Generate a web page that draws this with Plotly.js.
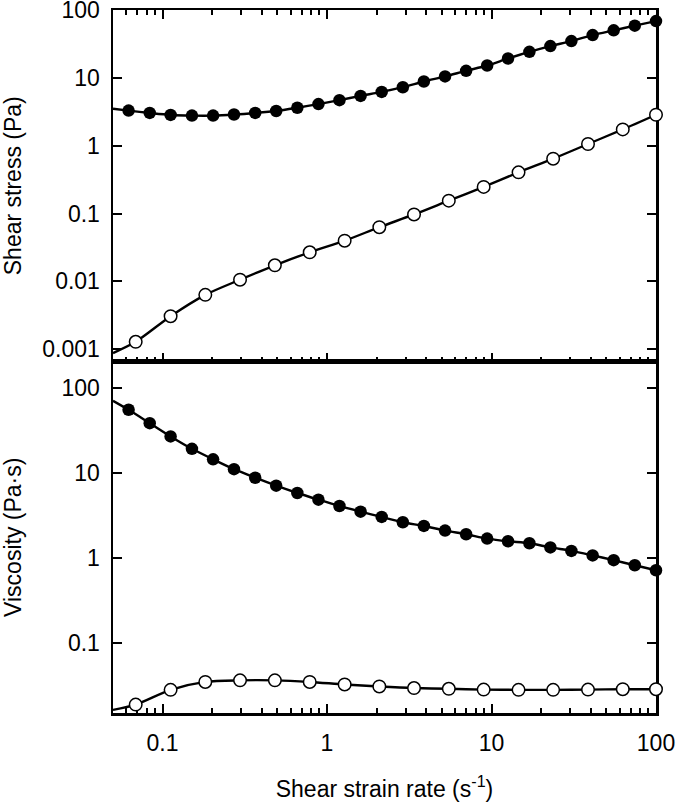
<!DOCTYPE html>
<html>
<head>
<meta charset="utf-8">
<script src="https://cdn.plot.ly/plotly-3.0.1.min.js"></script>
<style>html,body{margin:0;padding:0;background:#fff;}#chart{width:677px;height:805px;}</style>
</head>
<body>
<div id="chart"></div>
<script>
// Shear strain rate (s^-1) for the filled-circle series
const xFilled = [0.0622, 0.0836, 0.112, 0.151, 0.203, 0.272, 0.366, 0.491, 0.660, 0.887,
                 1.19, 1.60, 2.15, 2.89, 3.88, 5.22, 7.01, 9.41, 12.6, 17.0,
                 22.8, 30.6, 41.2, 55.3, 74.3, 100];
const stressFilled = [3.29, 3.04, 2.84, 2.78, 2.78, 2.88, 3.04, 3.25, 3.63, 4.11,
                      4.69, 5.42, 6.2, 7.28, 8.83, 10.5, 12.7, 15.2, 19.3, 24.2,
                      29.4, 34.8, 42.7, 50.1, 58.7, 68.7];
const viscFilled = [55.6, 38.7, 27.0, 19.3, 14.5, 11.1, 8.81, 7.10, 5.82, 4.86,
                    4.09, 3.51, 3.04, 2.63, 2.38, 2.10, 1.90, 1.69, 1.57, 1.49,
                    1.33, 1.21, 1.07, 0.94, 0.82, 0.716];
// Shear strain rate for the open-circle series
const xOpen = [0.0687, 0.112, 0.182, 0.296, 0.482, 0.785, 1.28, 2.08, 3.38, 5.5,
               8.96, 14.6, 23.7, 38.6, 62.8, 100];
const stressOpen = [0.00129, 0.00307, 0.00634, 0.0106, 0.0173, 0.0269, 0.0398, 0.063, 0.097, 0.155,
                    0.247, 0.405, 0.644, 1.06, 1.74, 2.86];
const viscOpen = [0.0187, 0.0279, 0.0346, 0.0361, 0.0361, 0.0346, 0.0323, 0.0306, 0.0293, 0.0287,
                  0.0281, 0.0279, 0.0279, 0.0281, 0.0284, 0.0284];
// fitted curves continue to the left frame edge
const xEdge = 0.05;
const stressFilledEdge = 3.5;
const stressOpenEdge = 0.00088;
const viscFilledEdge = 71;
const viscOpenEdge = 0.0162;

// tick labels
const xTickVals = [0.1, 1, 10, 100];
const xTickText = ['0.1', '1', '10', '100'];
const stressTickVals = [0.001, 0.01, 0.1, 1, 10, 100];
const stressTickText = ['0.001', '0.01', '0.1', '1', '10', '100'];
const viscTickVals = [0.1, 1, 10, 100];
const viscTickText = ['0.1', '1', '10', '100'];

const minorX = [];
for (let d = -2; d <= 1; d++) {
  for (let m = 2; m <= 9; m++) minorX.push(m * Math.pow(10, d));
}

const FONT = 'Liberation Sans, Arial, Helvetica, sans-serif';
const FS = 23;

function lineTrace(x, y, xa, ya) {
  return {x: x, y: y, xaxis: xa, yaxis: ya, type: 'scatter', mode: 'lines',
          line: {color: '#000', width: 2.4, shape: 'spline', smoothing: 0.8},
          hoverinfo: 'skip', cliponaxis: true};
}
function markerTrace(x, y, xa, ya, filled) {
  return {x: x, y: y, xaxis: xa, yaxis: ya, type: 'scatter', mode: 'markers',
          marker: {symbol: 'circle', size: 12.5,
                   color: filled ? '#000' : '#fff',
                   line: {color: '#000', width: filled ? 0 : 1.5}},
          cliponaxis: false};
}

const data = [
  lineTrace([xEdge].concat(xFilled), [stressFilledEdge].concat(stressFilled), 'x2', 'y2'),
  lineTrace([xEdge].concat(xOpen), [stressOpenEdge].concat(stressOpen), 'x2', 'y2'),
  markerTrace(xFilled, stressFilled, 'x2', 'y2', true),
  markerTrace(xOpen, stressOpen, 'x2', 'y2', false),
  lineTrace([xEdge].concat(xFilled), [viscFilledEdge].concat(viscFilled), 'x', 'y'),
  lineTrace([xEdge].concat(xOpen), [viscOpenEdge].concat(viscOpen), 'x', 'y'),
  markerTrace(xFilled, viscFilled, 'x', 'y', true),
  markerTrace(xOpen, viscOpen, 'x', 'y', false)
];

const common = {
  type: 'log', showgrid: false, zeroline: false,
  showline: true, linecolor: '#000', linewidth: 2.5,
  ticks: 'inside', ticklen: 9, tickwidth: 2, tickcolor: '#000',
  tickfont: {family: FONT, size: FS, color: '#000'},
  ticklabeloverflow: 'allow',
  layer: 'below traces', tickmode: 'array'
};

const layout = {
  width: 677, height: 805,
  margin: {l: 113, r: 21, t: 10, b: 92},
  paper_bgcolor: '#fff', plot_bgcolor: '#fff',
  showlegend: false,
  font: {family: FONT, size: FS, color: '#000'},
  xaxis: Object.assign({}, common, {
    anchor: 'y', domain: [0, 1],
    range: [Math.log10(0.05), 2],
    tickvals: xTickVals, ticktext: xTickText,
    mirror: true, ticklabelstandoff: 8,
    minor: {tickmode: 'array', tickvals: minorX, ticks: 'inside', ticklen: 5, tickwidth: 2, tickcolor: '#000', showgrid: false},
    title: {text: 'Shear strain rate (s<sup>-1</sup>)', font: {family: FONT, size: FS, color: '#000'}, standoff: 26}
  }),
  xaxis2: Object.assign({}, common, {
    anchor: 'y2', matches: 'x',
    range: [Math.log10(0.05), 2],
    tickvals: xTickVals, ticktext: xTickText,
    showticklabels: false, mirror: 'ticks',
    minor: {tickmode: 'array', tickvals: minorX, ticks: 'inside', ticklen: 5, tickwidth: 2, tickcolor: '#000', showgrid: false}
  }),
  yaxis: Object.assign({}, common, {
    anchor: 'x', domain: [0, 0.5],
    range: [-1.827, 2.314],
    tickvals: viscTickVals, ticktext: viscTickText,
    mirror: 'ticks', ticklabelstandoff: 6,
    title: {text: 'Viscosity (Pa·s)', font: {family: FONT, size: FS, color: '#000'}, standoff: 38}
  }),
  yaxis2: Object.assign({}, common, {
    anchor: 'x2', domain: [0.5, 1],
    range: [-3.18, 2],
    tickvals: stressTickVals, ticktext: stressTickText,
    mirror: 'ticks', ticklabelstandoff: 6,
    title: {text: 'Shear stress (Pa)', font: {family: FONT, size: FS, color: '#000'}, standoff: 18}
  })
};

Plotly.newPlot('chart', data, layout, {displayModeBar: false, staticPlot: true});
</script>
</body>
</html>
